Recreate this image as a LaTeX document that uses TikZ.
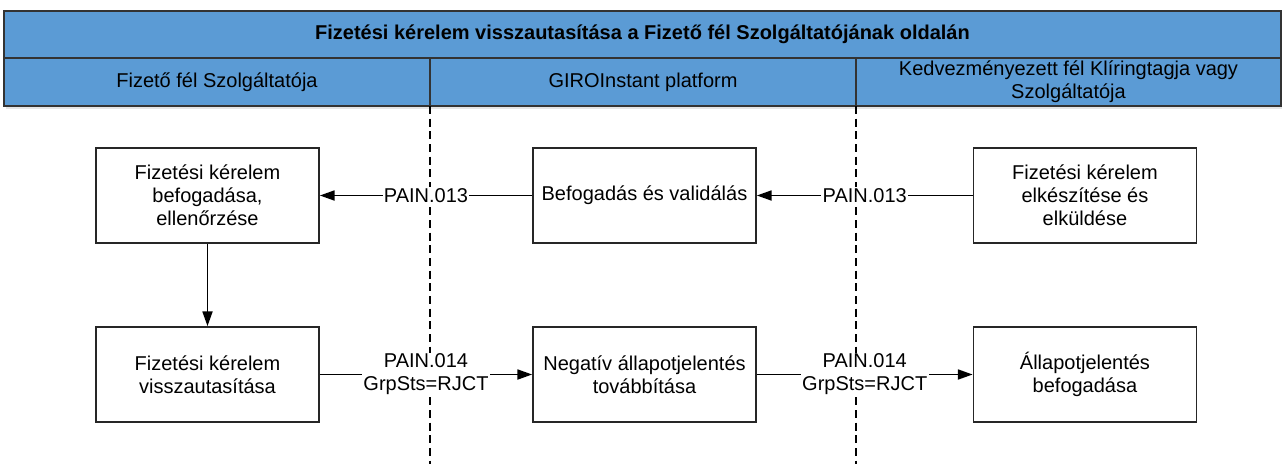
\documentclass[tikz,border=0pt]{standalone}
\usepackage{fontspec}
\setmainfont{Liberation Sans}
\usepackage{xcolor}
\usetikzlibrary{arrows.meta}
\usetikzlibrary{positioning}
\definecolor{headblue}{RGB}{91,155,213}

\begin{document}
\begin{tikzpicture}[x=0.75pt,y=-0.75pt,-,line width=1.3pt,node distance=134.25pt,
	font=\fontsize{15}{17.25}\selectfont,>={Triangle[length=11pt,width=7.5pt]},
	lane node/.style={draw=black!80, fill=headblue, minimum width=319.5pt, minimum height=36pt, inner sep=0pt, outer sep=0pt, anchor=north west, align=center},
	main node/.style={rectangle, draw=black!85, fill=white, minimum width=167.25pt, minimum height=71.25pt, align=center, inner sep=2pt}]
			\useasboundingbox (0,0) rectangle (1282,464);
			% Header
			\fill[black!10] (6,14) rectangle (1282,109);
			\node[lane node, minimum width=957.75pt, minimum height=35.25pt, font=\fontsize{15}{17.25}\selectfont\bfseries] (0) at (4,11) {Fizetési kérelem visszautasítása a Fizető fél Szolgáltatójának oldalán};
			\node[lane node] (a) at (4,58) {Fizető fél Szolgáltatója};
			\node[lane node] (b) at (430,58) {GIROInstant platform};
			\node[lane node, minimum width=318.75pt] (c) at (856,58) {Kedvezményezett fél Klíringtagja vagy\\Szolgáltatója};
			
			\coordinate (a end) at (430,464);
			\coordinate (b end) at (856,464);
			\draw[line width=0.8pt, dash pattern=on 6pt off 3.5pt] (a.south east) -- (a end);
			\draw[line width=0.8pt, dash pattern=on 6pt off 3.5pt] (b.south east) -- (b end);
			
			% Nodes
			\node[main node] (1) at (207.5,195.5) {Fizetési kérelem\\befogadása,\\ellenőrzése};
			\node[main node] (2) [right of=1, xshift=193.5pt] {Befogadás és validálás};
			\node[main node] (3) [right of=2, xshift=196.1pt] {Fizetési kérelem\\elkészítése és\\elküldése};
			\node[main node] (4) [below of=1] {Fizetési kérelem\\visszautasítása};
			\node[main node] (5) [below of=2] {Negatív állapotjelentés\\továbbítása};
			\node[main node] (6) [below of=3] {Állapotjelentés\\befogadása};
			
			\path[every node/.style={fill=white, inner sep=1pt, align=center}]
			(3) edge[->] node {PAIN.013} (2)
			(2) edge[->] node {PAIN.013} (1)
			(1) edge[->] (4)
			(4) edge[->] node {PAIN.014\\GrpSts=RJCT} (5)
			(5) edge[->] node {PAIN.014\\GrpSts=RJCT} (6);
			
		\end{tikzpicture}
\end{document}
